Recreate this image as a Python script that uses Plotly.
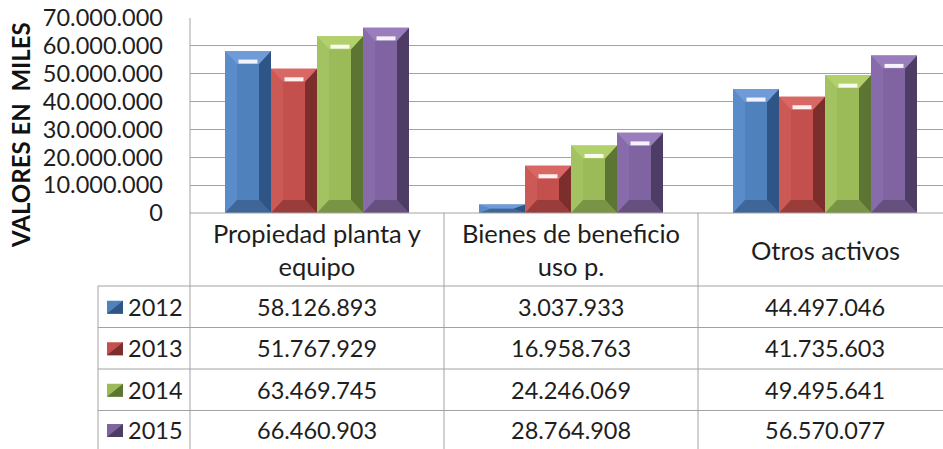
import plotly.graph_objects as go

# ---------------- data ----------------
categories = ["Propiedad planta y<br>equipo", "Bienes de beneficio<br>uso p.", "Otros activos"]
years = ["2012", "2013", "2014", "2015"]
v2012 = [58126893, 3037933, 44497046]
v2013 = [51767929, 16958763, 41735603]
v2014 = [63469745, 24246069, 49495641]
v2015 = [66460903, 28764908, 56570077]
series_values = [v2012, v2013, v2014, v2015]
y_tickvals = [0, 10000000, 20000000, 30000000, 40000000, 50000000, 60000000, 70000000]

# ---------------- styling ----------------
W, H = 943, 449
FONT = "Lato, Carlito, Calibri, sans-serif"
TXT = "#1e1e1e"
GRID = "#a3a3a3"
# face, top, left, right, bottom
palette = [
    ("#4f81bd", "#6f9bd8", "#5a8cca", "#2f5586", "#3e6699"),
    ("#c4504d", "#d96865", "#cb5a57", "#7b2e2c", "#9a3c3a"),
    ("#9bbb59", "#b2d16c", "#a3c362", "#5d7533", "#7a9446"),
    ("#8064a2", "#997dbd", "#886bab", "#4d3c63", "#66507f"),
]

def px_x(x):
    return x / W

def px_y(y):
    return 1 - y / H

plot_left, plot_top, plot_bottom = 190, 18, 213
cat_px = 254.0
ymax = 70000000
plot_w = W - plot_left
xrange = [-0.5, -0.5 + plot_w / cat_px]

bar_w = 46 / cat_px
group_start = (225 - (plot_left + cat_px / 2)) / cat_px
hx = 12 / cat_px
hy_px = 13
data_per_px = ymax / (plot_bottom - plot_top)

fig = go.Figure()
xs = list(range(len(categories)))

for i, (yr, vals) in enumerate(zip(years, series_values)):
    face, top, left, right, bottom = palette[i]
    off = group_start + i * bar_w
    fig.add_trace(go.Bar(x=xs, y=vals, width=bar_w, offset=off, name=yr,
                         marker=dict(color=face, line=dict(width=0)), showlegend=False))
    polys = {"left": ([], []), "right": ([], []), "top": ([], []), "bottom": ([], [])}
    hlx, hly = [], []
    for c, v in zip(xs, vals):
        x0 = c + off
        x1 = x0 + bar_w
        hy = min(hy_px * data_per_px, v / 2)
        pts = {
            "top": [(x0, v), (x1, v), (x1 - hx, v - hy), (x0 + hx, v - hy), (x0, v)],
            "bottom": [(x0, 0), (x1, 0), (x1 - hx, hy), (x0 + hx, hy), (x0, 0)],
            "left": [(x0, 0), (x0, v), (x0 + hx, v - hy), (x0 + hx, hy), (x0, 0)],
            "right": [(x1, 0), (x1, v), (x1 - hx, v - hy), (x1 - hx, hy), (x1, 0)],
        }
        for k, p in pts.items():
            polys[k][0].extend([q[0] for q in p] + [None])
            polys[k][1].extend([q[1] for q in p] + [None])
        if v > 2 * hy_px * data_per_px:
            hlx.extend([x0 + hx + 0.006, x1 - hx - 0.006, None])
            hly.extend([v - hy + 2.5 * data_per_px, v - hy + 2.5 * data_per_px, None])
    colors = {"left": left, "right": right, "top": top, "bottom": bottom}
    for k in ["left", "right", "top", "bottom"]:
        fig.add_trace(go.Scatter(x=polys[k][0], y=polys[k][1], mode="lines", fill="toself",
                                 fillcolor=colors[k], line=dict(width=0), hoverinfo="skip",
                                 showlegend=False))
    fig.add_trace(go.Scatter(x=hlx, y=hly, mode="lines", line=dict(color="rgba(255,255,255,0.9)", width=4),
                             hoverinfo="skip", showlegend=False))

shapes = []
line = dict(color=GRID, width=1)
shapes.append(dict(type="line", xref="paper", yref="paper", x0=px_x(plot_left), x1=px_x(plot_left),
                   y0=px_y(plot_top), y1=0, line=line))
row_edges = [213, 286, 327.5, 369, 410.5, 452]
shapes.append(dict(type="line", xref="paper", yref="paper", x0=px_x(98), x1=px_x(98),
                   y0=px_y(row_edges[1]), y1=0, line=line))
for b in [0.5, 1.5]:
    shapes.append(dict(type="line", xref="x", yref="paper", x0=b, x1=b,
                       y0=px_y(plot_bottom), y1=0, line=line))
shapes.append(dict(type="line", xref="paper", yref="paper", x0=px_x(plot_left), x1=1,
                   y0=px_y(row_edges[0]), y1=px_y(row_edges[0]), line=line))
for r in row_edges[1:5]:
    shapes.append(dict(type="line", xref="paper", yref="paper", x0=px_x(98), x1=1,
                       y0=px_y(r), y1=px_y(r), line=line))

annotations = []
FS_NUM = 23.5
FS_HEAD = 25.5
for c, cat in enumerate(categories):
    annotations.append(dict(x=c, y=px_y((row_edges[0] + row_edges[1]) / 2), xref="x", yref="paper",
                            text=cat, showarrow=False, font=dict(family=FONT, size=FS_HEAD, color=TXT),
                            xanchor="center", yanchor="middle", align="center"))

def fmt(v):
    return f"{v:,}".replace(",", ".")

for i, (yr, vals) in enumerate(zip(years, series_values)):
    yc = (row_edges[i + 1] + row_edges[i + 2]) / 2
    if i == 3:
        yc = 430
    for c, v in enumerate(vals):
        annotations.append(dict(x=c, y=px_y(yc), xref="x", yref="paper", text=fmt(v), showarrow=False,
                                font=dict(family=FONT, size=FS_NUM, color=TXT), xanchor="center", yanchor="middle"))
    annotations.append(dict(x=px_x(126), y=px_y(yc), xref="paper", yref="paper", text=yr, showarrow=False,
                            font=dict(family=FONT, size=FS_NUM, color=TXT), xanchor="left", yanchor="middle"))
    face, top, left, right, bottom = palette[i]
    shapes.append(dict(type="rect", xref="paper", yref="paper", x0=px_x(107), x1=px_x(123),
                       y0=px_y(yc + 7), y1=px_y(yc - 6), fillcolor=face, line=dict(width=0)))
    shapes.append(dict(type="path", xref="paper", yref="paper",
                       path=f"M {px_x(123)},{px_y(yc - 6)} L {px_x(123)},{px_y(yc + 7)} L {px_x(107)},{px_y(yc + 7)} Z",
                       fillcolor=right, line=dict(width=0)))

annotations.append(dict(x=px_x(20), y=px_y(135), xref="paper", yref="paper",
                        text="<b>VALORES EN \u00a0MILES</b>",
                        textangle=-90, showarrow=False, font=dict(family=FONT, size=24, color="#111111"),
                        xanchor="center", yanchor="middle"))

fig.update_layout(
    width=W, height=H,
    margin=dict(l=0, r=0, t=0, b=0, pad=0),
    paper_bgcolor="white", plot_bgcolor="white",
    barmode="overlay",
    separators=",.",
    showlegend=False,
    xaxis=dict(domain=[px_x(plot_left), 1], range=xrange, showgrid=False, zeroline=False,
               showticklabels=False, ticks="", automargin=False, fixedrange=True),
    yaxis=dict(domain=[px_y(plot_bottom), px_y(plot_top)], range=[0, ymax], tickvals=y_tickvals,
               tickformat=",d", showgrid=True, gridcolor=GRID, gridwidth=1, zeroline=False,
               automargin=False, ticks="", ticklabelstandoff=26, fixedrange=True,
               tickfont=dict(family=FONT, size=FS_NUM, color=TXT)),
    shapes=shapes,
    annotations=annotations,
)

fig.write_html("out.html", config={"displayModeBar": False},
               post_script="document.body.style.margin='0';document.body.style.overflow='hidden';")
